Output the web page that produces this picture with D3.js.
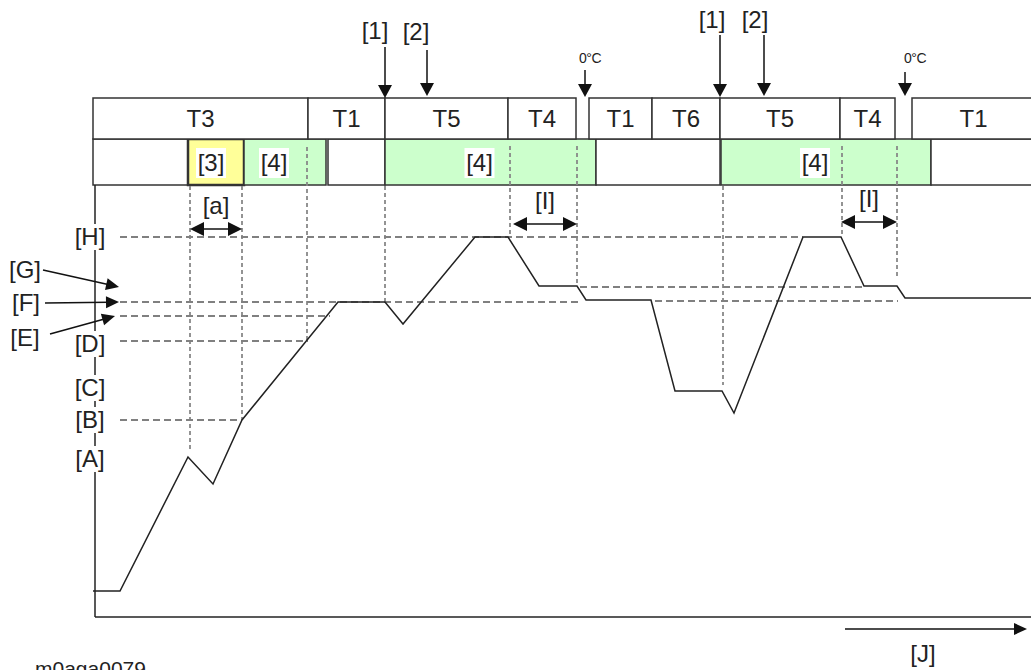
<!DOCTYPE html>
<html>
<head>
<meta charset="utf-8">
<script src="https://cdn.jsdelivr.net/npm/d3@7"></script>
<style>
  body { margin: 0; background: #fff; }
  text { font-family: "Liberation Sans", Arial, sans-serif; fill: #222; }
</style>
</head>
<body>
<div id="chart"></div>
<script>
// temperature curve (time step, level)
var curveT = [-2, 25, 93, 118, 147, 243, 290, 308, 380, 413, 444, 482, 491, 556, 580, 627, 639, 708, 746, 769, 802, 810, 936];
var curveV = [26, 26, 160, 133, 197, 315, 315, 293, 380, 380, 331, 331, 317, 317, 226, 226, 204, 380, 380, 331, 331, 319, 319];

// control phases (top row)
var phaseName  = ["T3", "T1", "T5", "T4", "T1", "T6", "T5", "T4", "T1"];
var phaseStart = [-2, 213, 290, 413, 494, 557, 625, 745, 817];
var phaseEnd   = [213, 290, 413, 481, 557, 625, 745, 800, 940];

// heater modes (second row)
var modeName  = ["", "[3]", "[4]", "", "[4]", "", "[4]", ""];
var modeKind  = ["off", "pre", "on", "off", "on", "off", "on", "off"];
var modeStart = [-2, 93, 149, 233, 290, 501, 626, 836];
var modeEnd   = [93, 149, 231, 290, 501, 625, 836, 940];

// vertical guide lines (time, from level, to level)
var guideT    = [95, 147, 212, 290, 415, 482, 628, 747, 802];
var guideTop  = [431, 431, 470, 431, 471, 471, 431, 471, 471];
var guideBot  = [167, 197, 276, 315, 380, 331, 232, 380, 340];

// horizontal reference levels
var levelV  = [380, 315, 316, 301, 276, 197, 330];
var levelT0 = [25, 25, 560, 25, 25, 25, 485];
var levelT1 = [708, 483, 803, 235, 213, 147, 767];

// y axis labels
var yLabel  = ["[H]", "[D]", "[C]", "[B]", "[A]"];
var yLabelV = [380, 273, 229, 197, 158];

// side labels pointing at levels
var sideLabel = ["[G]", "[F]", "[E]"];
var sideV     = [330, 315, 301];

// interval spans
var spanLabel = ["[a]", "[I]", "[I]"];
var spanT0    = [95, 418, 746];
var spanT1    = [147, 482, 802];
var spanV     = [388, 393, 395];

// event markers above the phases
var markerLabel = ["[1]", "[2]", "0\u00b0C", "[1]", "[2]", "0\u00b0C"];
var markerT     = [290, 332, 490, 625, 669, 810];

var width = 1031, height = 670;
var svg = d3.select("#chart").append("svg")
  .attr("width", width)
  .attr("height", height);

var x = d3.scaleLinear().domain([0, 936]).range([95, 1031]);
var y = d3.scaleLinear().domain([0, 431]).range([617, 186]);

var row1Top = 98, row1Bot = 139, row2Bot = 185;

function head(tx, ty, ang, len, hw) {
  var ca = Math.cos(ang), sa = Math.sin(ang);
  var bx = tx - len * ca, by = ty - len * sa;
  return "M" + tx + "," + ty +
    "L" + (bx - hw * sa) + "," + (by + hw * ca) +
    "L" + (bx + hw * sa) + "," + (by - hw * ca) + "Z";
}

// second row boxes
var modeColor = { off: "#fff", pre: "#ffff99", on: "#ccffcc" };
modeName.forEach(function (d, i) {
  svg.append("rect")
    .attr("x", x(modeStart[i])).attr("y", row1Bot)
    .attr("width", x(modeEnd[i]) - x(modeStart[i]))
    .attr("height", row2Bot - row1Bot)
    .attr("fill", modeColor[modeKind[i]])
    .attr("stroke", "#333")
    .attr("stroke-width", modeKind[i] == "pre" ? 2.5 : 1.5);
});

// top row boxes
phaseName.forEach(function (d, i) {
  svg.append("rect")
    .attr("x", x(phaseStart[i])).attr("y", row1Top)
    .attr("width", x(phaseEnd[i]) - x(phaseStart[i]))
    .attr("height", row1Bot - row1Top)
    .attr("fill", "#fff")
    .attr("stroke", "#333")
    .attr("stroke-width", 1.5);
  svg.append("text")
    .attr("x", (x(phaseStart[i]) + x(phaseEnd[i])) / 2)
    .attr("y", 127)
    .attr("text-anchor", "middle")
    .style("font-size", "24px")
    .text(d);
});

// vertical guides
guideT.forEach(function (t, i) {
  svg.append("line")
    .attr("x1", x(t)).attr("x2", x(t))
    .attr("y1", y(guideTop[i])).attr("y2", y(guideBot[i]))
    .attr("stroke", "#888")
    .attr("stroke-width", 1.8)
    .attr("stroke-dasharray", "4,3");
});

// labels in the second row (white background)
modeName.forEach(function (d, i) {
  if (!d) return;
  var cx = (x(modeStart[i]) + x(modeEnd[i])) / 2 - 11;
  if (modeKind[i] == "pre") cx = (x(modeStart[i]) + x(modeEnd[i])) / 2 - 5;
  svg.append("rect")
    .attr("x", cx - 15).attr("y", 148)
    .attr("width", 30).attr("height", 30)
    .attr("fill", "#fff");
  svg.append("text")
    .attr("x", cx).attr("y", 171)
    .attr("text-anchor", "middle")
    .style("font-size", "24px")
    .text(d);
});

// dashed levels
levelV.forEach(function (v, i) {
  svg.append("line")
    .attr("x1", x(levelT0[i])).attr("x2", x(levelT1[i]))
    .attr("y1", y(v)).attr("y2", y(v))
    .attr("stroke", "#808080")
    .attr("stroke-width", 2)
    .attr("stroke-dasharray", "7,4");
});

// axes
svg.append("line")
  .attr("x1", x(0)).attr("x2", x(0))
  .attr("y1", row2Bot).attr("y2", y(0))
  .attr("stroke", "#222").attr("stroke-width", 1.5);
svg.append("line")
  .attr("x1", x(0)).attr("x2", width)
  .attr("y1", y(0)).attr("y2", y(0))
  .attr("stroke", "#222").attr("stroke-width", 1.5);

// temperature curve
var pts = curveT.map(function (t, i) { return [t, curveV[i]]; });
svg.append("path")
  .datum(pts)
  .attr("d", d3.line()
    .x(function (d) { return x(d[0]); })
    .y(function (d) { return y(d[1]); }))
  .attr("fill", "none")
  .attr("stroke", "#222")
  .attr("stroke-width", 1.5);

// y axis labels
yLabel.forEach(function (d, i) {
  var cy = y(yLabelV[i]);
  svg.append("rect")
    .attr("x", 73).attr("y", cy - 13)
    .attr("width", 35).attr("height", 26)
    .attr("fill", "#fff");
  svg.append("text")
    .attr("x", 90).attr("y", cy + 8)
    .attr("text-anchor", "middle")
    .style("font-size", "24px")
    .text(d);
});

// side labels with arrows
var sideText = [[25, 278], [26, 311], [25, 346]];
var sideFrom = [[43, 270], [45, 303], [50, 334]];
var sideTipX = [119, 119, 115];
sideLabel.forEach(function (d, i) {
  var tx = sideTipX[i], ty = y(sideV[i]);
  var fx = sideFrom[i][0], fy = sideFrom[i][1];
  var ang = Math.atan2(ty - fy, tx - fx);
  svg.append("line")
    .attr("x1", fx).attr("y1", fy)
    .attr("x2", tx - 10 * Math.cos(ang)).attr("y2", ty - 10 * Math.sin(ang))
    .attr("stroke", "#111").attr("stroke-width", 1.5);
  svg.append("path").attr("d", head(tx, ty, ang, 13, 6)).attr("fill", "#111");
  svg.append("text")
    .attr("x", sideText[i][0]).attr("y", sideText[i][1])
    .attr("text-anchor", "middle")
    .style("font-size", "24px")
    .text(d);
});

// interval spans
spanLabel.forEach(function (d, i) {
  var x0 = x(spanT0[i]), x1 = x(spanT1[i]), sy = y(spanV[i]);
  svg.append("line")
    .attr("x1", x0 + 8).attr("x2", x1 - 8)
    .attr("y1", sy).attr("y2", sy)
    .attr("stroke", "#111").attr("stroke-width", 1.5);
  svg.append("path").attr("d", head(x0, sy, Math.PI, 14, 7)).attr("fill", "#111");
  svg.append("path").attr("d", head(x1, sy, 0, 14, 7)).attr("fill", "#111");
  svg.append("text")
    .attr("x", (x0 + x1) / 2).attr("y", sy - 15)
    .attr("text-anchor", "middle")
    .style("font-size", "24px")
    .text(d);
});

// event markers
var markerTop  = [47, 50, 70, 35, 35, 72];
var markerTip  = [98, 96, 97, 97, 96, 96];
var markerBase = [39, 40, 63, 28, 28, 63];
var markerDx   = [-10, -11, 5, -8, -9, 10];
markerLabel.forEach(function (d, i) {
  var mx = x(markerT[i]);
  svg.append("line")
    .attr("x1", mx).attr("x2", mx)
    .attr("y1", markerTop[i]).attr("y2", markerTip[i] - 8)
    .attr("stroke", "#111").attr("stroke-width", 1.5);
  svg.append("path").attr("d", head(mx, markerTip[i], Math.PI / 2, 13, 7)).attr("fill", "#111");
  var small = d.indexOf("C") >= 0;
  svg.append("text")
    .attr("x", mx + markerDx[i]).attr("y", markerBase[i])
    .attr("text-anchor", "middle")
    .style("font-size", small ? "14px" : "24px")
    .style("letter-spacing", small ? "-0.5px" : null)
    .text(d);
});

// time direction arrow
svg.append("line")
  .attr("x1", 845).attr("x2", 1016)
  .attr("y1", 629).attr("y2", 629)
  .attr("stroke", "#111").attr("stroke-width", 1.5);
svg.append("path").attr("d", head(1027, 629, 0, 13, 6)).attr("fill", "#111");
svg.append("text")
  .attr("x", 923).attr("y", 662)
  .attr("text-anchor", "middle")
  .style("font-size", "24px")
  .text("[J]");

// figure code, cut at the bottom edge as in the source image
svg.append("text")
  .attr("x", 35).attr("y", 676)
  .style("font-size", "21px")
  .text("m0aga0079");
</script>
</body>
</html>
